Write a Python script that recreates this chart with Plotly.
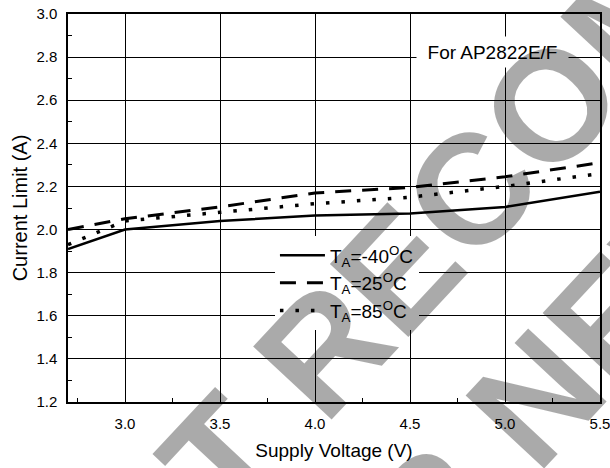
import plotly.graph_objects as go

# ---- data ----
supply_voltage = [2.7, 3.0, 3.5, 4.0, 4.5, 5.0, 5.5]
limit_m40 = [1.91, 2.00, 2.04, 2.065, 2.075, 2.105, 2.175]
limit_25 = [2.00, 2.05, 2.105, 2.17, 2.195, 2.245, 2.31]
limit_85 = [1.93, 2.04, 2.08, 2.12, 2.15, 2.20, 2.26]
series_names = ["T<sub>A</sub>=-40<sup>O</sup>C",
                "T<sub>A</sub>=25<sup>O</sup>C",
                "T<sub>A</sub>=85<sup>O</sup>C"]
x_ticks = [3.0, 3.5, 4.0, 4.5, 5.0, 5.5]
y_ticks = [1.2, 1.4, 1.6, 1.8, 2.0, 2.2, 2.4, 2.6, 2.8, 3.0]

FONT = "Liberation Sans, Arial, sans-serif"

fig = go.Figure()
styles = [dict(width=2.5, dash="solid"),
          dict(width=3, dash="16px,11px"),
          dict(width=3.5, dash="3.5px,12px")]
for name, ys, st in zip(series_names, [limit_m40, limit_25, limit_85], styles):
    fig.add_trace(go.Scatter(x=supply_voltage, y=ys, mode="lines", name=name,
                             line=dict(color="black", width=st["width"], dash=st["dash"])))

axis_common = dict(showline=True, linecolor="black", linewidth=1.5, mirror=True,
                   showgrid=True, gridcolor="black", gridwidth=1,
                   ticks="inside", ticklen=5, tickcolor="black",
                   tickfont=dict(family=FONT, size=15, color="black"),
                   zeroline=False, tickformat=".1f", automargin=False,
                   ticklabeloverflow="allow")

fig.update_xaxes(range=[2.7, 5.5], tickvals=x_ticks, **axis_common,
                 ticklabelstandoff=7,
                 minor=dict(dtick=0.25, tick0=2.75, ticks="inside", ticklen=4,
                            tickcolor="black", showgrid=False),
                 title=dict(text="Supply Voltage (V)", font=dict(family=FONT, size=19, color="black"),
                            standoff=13))
fig.update_yaxes(range=[1.2, 3.0], tickvals=y_ticks, **axis_common,
                 ticklabelstandoff=6,
                 minor=dict(dtick=0.1, ticks="inside", ticklen=4,
                            tickcolor="black", showgrid=False),
                 title=dict(text="Current Limit (A)", font=dict(family=FONT, size=20, color="black"),
                            standoff=3))

fig.add_annotation(text="For AP2822E/F", xref="paper", yref="paper", x=0.797, y=0.902,
                   xanchor="center", yanchor="middle", showarrow=False,
                   font=dict(family=FONT, size=19, color="black"),
                   bgcolor="white", width=143, height=22, borderpad=4)

wm_font = dict(family=FONT, size=156, color="rgba(0,0,0,0.335)", weight="bold")
fig.add_annotation(text="NOT RECOMMENDED", xref="paper", yref="paper", x=0.9748, y=0.8624,
                   xanchor="center", yanchor="middle", showarrow=False, textangle=-47,
                   font=wm_font)
fig.add_annotation(text="FOR NEW DESIGN", xref="paper", yref="paper", x=1.2126, y=0.501,
                   xanchor="center", yanchor="middle", showarrow=False, textangle=-47,
                   font=wm_font)

fig.update_layout(
    width=610, height=468,
    margin=dict(l=68, r=10, t=14, b=66),
    paper_bgcolor="white", plot_bgcolor="white",
    font=dict(family=FONT, color="black"),
    legend=dict(x=0.389, y=0.427, xanchor="left", yanchor="top",
                bgcolor="white", borderwidth=0, itemwidth=45,
                font=dict(family=FONT, size=19, color="black"),
                tracegroupgap=0),
)

fig.write_html("out.html", config={"displayModeBar": False},
               post_script="document.body.style.margin='0';document.body.style.overflow='hidden';")
